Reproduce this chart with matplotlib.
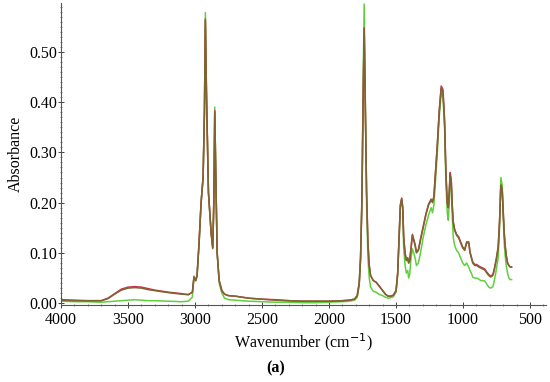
import numpy as np
import matplotlib.pyplot as plt
from matplotlib.ticker import MultipleLocator

# wavenumbers (cm-1)
wavenumber = [4000, 3900, 3800, 3700, 3650, 3600, 3550, 3500, 3450, 3400, 3350, 3300, 3200, 3100,
              3050, 3020, 3008, 2995, 2985, 2970, 2955, 2940, 2930, 2923, 2915, 2900, 2880, 2868,
              2860, 2853, 2845, 2835, 2820, 2800, 2780, 2750, 2700, 2650, 2600, 2500, 2400, 2300,
              2200, 2100, 2000, 1900, 1850, 1810, 1790, 1775, 1765, 1755, 1745, 1738, 1730, 1720,
              1710, 1700, 1690, 1670, 1650, 1630, 1600, 1580, 1560, 1540, 1520, 1500, 1488, 1478,
              1468, 1458, 1450, 1443, 1433, 1423, 1413, 1406, 1398, 1388, 1378, 1368, 1358, 1348,
              1333, 1318, 1298, 1278, 1258, 1238, 1228, 1218, 1208, 1193, 1178, 1163, 1150, 1138,
              1128, 1118, 1110, 1103, 1096, 1088, 1080, 1073, 1063, 1048, 1033, 1018, 1003, 988,
              973, 958, 948, 938, 928, 913, 898, 883, 868, 853, 838, 823, 808, 793, 778, 768, 753,
              738, 728, 718, 708, 700, 693, 686, 678, 668, 658, 648, 638]

# brown trace
sample_b = [0.006, 0.005, 0.005, 0.005, 0.009, 0.018, 0.026, 0.030, 0.031, 0.030, 0.027, 0.025, 0.021, 0.018,
            0.017, 0.022, 0.052, 0.045, 0.055, 0.12, 0.20, 0.25, 0.38, 0.562, 0.42, 0.22, 0.14, 0.11,
            0.20, 0.38, 0.25, 0.10, 0.045, 0.025, 0.018, 0.015, 0.014, 0.012, 0.010, 0.008, 0.006, 0.005,
            0.004, 0.004, 0.004, 0.005, 0.006, 0.008, 0.015, 0.04, 0.09, 0.20, 0.42, 0.545, 0.40, 0.22,
            0.12, 0.075, 0.055, 0.045, 0.042, 0.035, 0.025, 0.018, 0.014, 0.014, 0.016, 0.025, 0.06, 0.13,
            0.195, 0.208, 0.19, 0.13, 0.10, 0.085, 0.09, 0.08, 0.085, 0.11, 0.135, 0.125, 0.115, 0.10,
            0.105, 0.125, 0.15, 0.175, 0.195, 0.205, 0.20, 0.21, 0.25, 0.31, 0.38, 0.428, 0.42, 0.36,
            0.26, 0.20, 0.19, 0.22, 0.255, 0.24, 0.19, 0.16, 0.145, 0.135, 0.13, 0.12, 0.11, 0.105,
            0.12, 0.12, 0.10, 0.09, 0.08, 0.075, 0.075, 0.072, 0.07, 0.068, 0.066, 0.06, 0.055, 0.052,
            0.055, 0.065, 0.085, 0.11, 0.16, 0.235, 0.225, 0.18, 0.14, 0.115, 0.095, 0.08, 0.075, 0.072, 0.072]

# red trace
sample_r = [0.007, 0.006, 0.005, 0.005, 0.010, 0.019, 0.028, 0.032, 0.033, 0.032, 0.029, 0.026, 0.022, 0.019,
            0.017, 0.022, 0.052, 0.045, 0.055, 0.12, 0.20, 0.25, 0.38, 0.565, 0.42, 0.22, 0.14, 0.11,
            0.20, 0.383, 0.25, 0.10, 0.045, 0.025, 0.018, 0.015, 0.014, 0.012, 0.010, 0.008, 0.007, 0.005,
            0.004, 0.004, 0.004, 0.005, 0.006, 0.008, 0.015, 0.04, 0.09, 0.20, 0.42, 0.548, 0.40, 0.22,
            0.12, 0.075, 0.055, 0.045, 0.042, 0.036, 0.025, 0.018, 0.014, 0.014, 0.016, 0.025, 0.06, 0.13,
            0.195, 0.209, 0.19, 0.13, 0.10, 0.085, 0.09, 0.08, 0.085, 0.11, 0.137, 0.127, 0.117, 0.102,
            0.107, 0.127, 0.152, 0.177, 0.197, 0.207, 0.202, 0.212, 0.252, 0.312, 0.382, 0.432, 0.425, 0.365,
            0.26, 0.20, 0.19, 0.225, 0.26, 0.245, 0.19, 0.162, 0.147, 0.137, 0.132, 0.122, 0.112, 0.107,
            0.122, 0.122, 0.102, 0.092, 0.082, 0.077, 0.077, 0.074, 0.072, 0.07, 0.068, 0.062, 0.057, 0.054,
            0.057, 0.067, 0.087, 0.112, 0.16, 0.235, 0.225, 0.18, 0.14, 0.115, 0.095, 0.08, 0.075, 0.072, 0.072]

# green trace
sample_g = [0.004, 0.003, 0.003, 0.002, 0.003, 0.004, 0.005, 0.006, 0.007, 0.006, 0.005, 0.005, 0.004, 0.003,
            0.004, 0.012, 0.054, 0.045, 0.055, 0.12, 0.20, 0.25, 0.38, 0.578, 0.42, 0.22, 0.14, 0.108,
            0.20, 0.39, 0.25, 0.10, 0.04, 0.02, 0.010, 0.007, 0.006, 0.005, 0.004, 0.003, 0.002, 0.002,
            0.001, 0.001, 0.002, 0.003, 0.004, 0.006, 0.012, 0.035, 0.085, 0.21, 0.45, 0.595, 0.42, 0.20,
            0.09, 0.05, 0.032, 0.024, 0.022, 0.018, 0.015, 0.012, 0.010, 0.011, 0.013, 0.022, 0.055, 0.125,
            0.19, 0.205, 0.185, 0.11, 0.075, 0.06, 0.065, 0.05, 0.058, 0.09, 0.108, 0.10, 0.09, 0.075,
            0.08, 0.10, 0.13, 0.155, 0.175, 0.19, 0.18, 0.195, 0.235, 0.295, 0.37, 0.418, 0.41, 0.35,
            0.24, 0.18, 0.165, 0.20, 0.245, 0.23, 0.17, 0.13, 0.115, 0.105, 0.10, 0.09, 0.08, 0.075,
            0.08, 0.072, 0.065, 0.06, 0.052, 0.05, 0.05, 0.048, 0.045, 0.045, 0.044, 0.038, 0.032, 0.030,
            0.033, 0.043, 0.065, 0.09, 0.15, 0.25, 0.235, 0.17, 0.12, 0.095, 0.075, 0.06, 0.05, 0.047, 0.047]

plt.rcParams['font.family'] = ['Liberation Serif', 'DejaVu Serif']

fig = plt.figure(figsize=(5.5, 3.82), dpi=100)
ax = fig.add_axes([0.111, 0.201, 0.882, 0.791])

ax.plot(wavenumber, sample_g, color='#5ed03c', lw=1.1)
ax.plot(wavenumber, sample_r, color='#c8364f', lw=1.1)
ax.plot(wavenumber, sample_b, color='#7d6530', lw=1.1)

ax.set_xlim(4000, 380)
ax.set_ylim(-0.004, 0.597)

ax.spines['top'].set_visible(False)
ax.spines['right'].set_visible(False)
ax.spines['left'].set_color('#555555')
ax.spines['bottom'].set_color('#555555')
ax.spines['left'].set_linewidth(0.8)
ax.spines['bottom'].set_linewidth(0.8)

ax.xaxis.set_major_locator(MultipleLocator(500))
ax.xaxis.set_minor_locator(MultipleLocator(100))
ax.yaxis.set_major_locator(MultipleLocator(0.1))
ax.yaxis.set_minor_locator(MultipleLocator(0.01))
ax.yaxis.set_major_formatter(plt.FormatStrFormatter('%.2f'))
ax.tick_params(which='major', direction='inout', length=4, width=0.7, color='#444444', labelsize=11.5)
ax.tick_params(axis='y', which='major', pad=1)
ax.tick_params(axis='x', which='major', pad=3)
ax.tick_params(which='minor', direction='inout', length=2, width=0.5, color='#555555')

ax.set_xlabel('Wavenumber (cm$^{-1}$)', fontsize=11.5, labelpad=2)
ax.set_ylabel('Absorbance', fontsize=11.5, labelpad=4)

fig.text(0.502, 0.035, '(a)', fontsize=11.5, fontweight='bold', ha='center', va='center')

fig.savefig('out.png', dpi=100)
